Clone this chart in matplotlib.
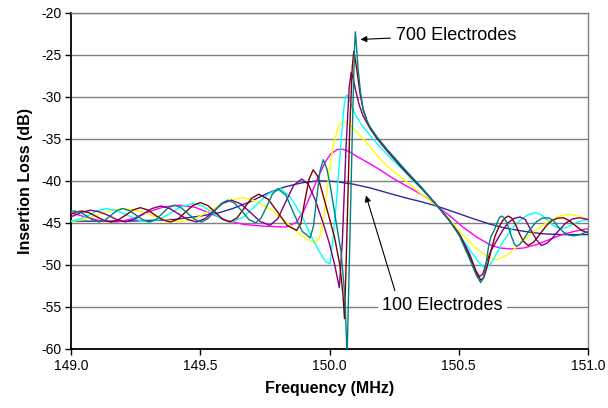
import matplotlib
matplotlib.use("Agg")
import matplotlib.pyplot as plt

plt.rcParams["font.family"] = ["Liberation Sans", "DejaVu Sans"]
plt.rcParams["axes.unicode_minus"] = False

# 100 electrodes
freq_100 = [149.0, 149.228, 149.40, 149.50, 149.573, 149.626, 149.693,
            149.759, 149.825, 149.892, 149.958, 150.025, 150.091, 150.157,
            150.22, 150.29, 150.356, 150.419, 150.49, 150.555, 150.615,
            150.675, 150.75, 150.821, 150.9, 151.0]
loss_100 = [-44.8, -44.8, -44.6, -44.2, -43.8, -43.3, -42.5,
            -41.5, -40.75, -40.25, -40.0, -40.1, -40.4, -40.85,
            -41.4, -42.0, -42.5, -43.05, -43.8, -44.5, -45.1,
            -45.6, -46.0, -46.3, -46.4, -46.4]

# 200 electrodes
freq_200 = [149.00, 149.06, 149.12, 149.18, 149.24, 149.30, 149.36, 149.42,
            149.48, 149.54, 149.60, 149.67, 149.75, 149.83, 149.87, 149.90,
            149.93, 149.96, 149.985, 150.005, 150.03, 150.05, 150.075, 150.10,
            150.157, 150.19, 150.25, 150.32, 150.37, 150.419, 150.47, 150.52,
            150.57, 150.62, 150.66, 150.70, 150.75, 150.80, 150.85, 150.90,
            150.95, 151.00]
loss_200 = [-43.8, -44.35, -44.8, -44.9, -44.5, -43.7, -43.1, -42.9,
            -43.15, -43.9, -44.7, -45.2, -45.4, -45.5, -45.0, -43.6,
            -41.5, -39.3, -37.7, -36.8, -36.3, -36.25, -36.5, -37.0,
            -38.0, -38.6, -39.8, -41.0, -41.9, -43.05, -44.3, -45.6,
            -46.7, -47.6, -48.0, -48.1, -48.0, -47.6, -47.0, -46.4,
            -46.0, -45.7]

# 300 electrodes
freq_300 = [149.000, 149.05, 149.10, 149.15, 149.20, 149.255, 149.31, 149.365,
            149.42, 149.482, 149.543, 149.605, 149.666, 149.72, 149.78, 149.835,
            149.89, 149.925, 149.948, 149.963, 149.978, 149.99, 150.003, 150.017,
            150.03, 150.04, 150.051, 150.065, 150.08, 150.10, 150.13, 150.157,
            150.19, 150.224, 150.29, 150.356, 150.419, 150.47, 150.52, 150.57,
            150.61, 150.647, 150.69, 150.74, 150.80, 150.86, 150.89, 150.92,
            150.95, 150.975, 151.00]
loss_300 = [-44.85, -44.6, -44.1, -43.55, -43.3, -43.55, -44.1, -44.65,
            -44.9, -44.49, -43.45, -42.4, -42.0, -42.5, -43.6, -45.0,
            -46.5, -47.15, -47.3, -46.6, -44.2, -41.3, -38.0, -35.5,
            -34.0, -33.3, -32.95, -33.0, -33.4, -34.0, -35.0, -36.0,
            -37.2, -38.3, -39.9, -41.6, -43.05, -44.8, -46.6, -48.1,
            -49.0, -49.4, -48.8, -47.4, -45.8, -44.6, -44.2, -44.0,
            -44.1, -44.3, -44.6]

# 400 electrodes
freq_400 = [149.000, 149.034, 149.068, 149.101, 149.135, 149.176, 149.218, 149.259,
            149.30, 149.343, 149.387, 149.43, 149.474, 149.51, 149.547, 149.583,
            149.62, 149.668, 149.716, 149.764, 149.812, 149.85, 149.89, 149.925,
            149.96, 149.985, 150.002, 150.015, 150.028, 150.042, 150.055, 150.062,
            150.067, 150.075, 150.09, 150.11, 150.13, 150.157, 150.19, 150.224,
            150.29, 150.356, 150.419, 150.47, 150.52, 150.57, 150.59, 150.604,
            150.62, 150.64, 150.67, 150.70, 150.725, 150.75, 150.772, 150.795,
            150.818, 150.84, 150.865, 150.892, 150.915, 150.94, 150.97, 151.00]
loss_400 = [-44.8, -44.55, -44.1, -43.55, -43.3, -43.55, -44.1, -44.65,
            -44.9, -44.57, -43.8, -43.03, -42.7, -43.03, -43.8, -44.57,
            -44.9, -44.3, -42.9, -41.54, -40.95, -42.0, -44.0, -46.3,
            -48.4, -49.6, -49.9, -46.5, -42.0, -36.5, -31.5, -30.1,
            -29.8, -30.2, -31.5, -32.7, -33.6, -34.6, -35.8, -36.9,
            -38.9, -41.0, -43.05, -45.0, -47.2, -49.4, -50.1, -50.3,
            -50.0, -49.0, -47.3, -46.0, -45.0, -44.4, -44.0, -43.8,
            -44.0, -44.6, -45.3, -45.7, -45.55, -45.2, -44.8, -44.6]

# 500 electrodes
freq_500 = [149.000, 149.04, 149.076, 149.11, 149.143, 149.176, 149.21, 149.244,
            149.279, 149.313, 149.348, 149.382, 149.416, 149.451, 149.485, 149.519,
            149.552, 149.586, 149.62, 149.657, 149.695, 149.732, 149.77, 149.80,
            149.83, 149.861, 149.892, 149.918, 149.945, 149.975, 150.0, 150.02,
            150.038, 150.05, 150.064, 150.076, 150.084, 150.092, 150.10, 150.115,
            150.13, 150.157, 150.184, 150.224, 150.29, 150.356, 150.419, 150.463,
            150.502, 150.542, 150.565, 150.58, 150.593, 150.608, 150.625, 150.645,
            150.668, 150.69, 150.713, 150.737, 150.757, 150.778, 150.80, 150.82,
            150.843, 150.865, 150.89, 150.915, 150.94, 150.965, 151.00]
loss_500 = [-44.3, -43.75, -43.5, -43.7, -44.1, -44.6, -44.9, -44.6,
            -43.95, -43.3, -43.0, -43.3, -43.95, -44.6, -44.9, -44.5,
            -43.6, -42.7, -42.3, -42.75, -43.8, -44.85, -45.3, -44.5,
            -42.55, -40.55, -39.8, -40.4, -42.3, -45.0, -47.5, -50.0,
            -52.7, -47.0, -36.0, -29.0, -27.1, -27.9, -29.1, -31.0,
            -32.3, -33.8, -35.0, -36.5, -38.8, -40.9, -43.05, -44.7,
            -46.3, -48.7, -50.6, -51.4, -51.1, -49.6, -48.3, -47.2,
            -46.0, -45.0, -44.5, -44.3, -44.6, -45.8, -47.0, -47.7,
            -47.4, -46.7, -45.8, -45.0, -44.55, -44.4, -44.6]

# 600 electrodes
freq_600 = [149.000, 149.021, 149.042, 149.07, 149.098, 149.127, 149.155, 149.183,
            149.211, 149.24, 149.268, 149.297, 149.326, 149.356, 149.385, 149.414,
            149.442, 149.471, 149.50, 149.529, 149.558, 149.586, 149.615, 149.643,
            149.67, 149.698, 149.726, 149.763, 149.80, 149.836, 149.873, 149.889,
            149.905, 149.921, 149.937, 149.955, 149.975, 150.0, 150.02, 150.04,
            150.052, 150.058, 150.066, 150.078, 150.088, 150.094, 150.10, 150.108,
            150.118, 150.13, 150.145, 150.157, 150.184, 150.224, 150.29, 150.356,
            150.419, 150.463, 150.502, 150.542, 150.569, 150.585, 150.597, 150.61,
            150.625, 150.64, 150.655, 150.67, 150.682, 150.692, 150.705, 150.72,
            150.735, 150.75, 150.769, 150.79, 150.815, 150.84, 150.86, 150.882,
            150.905, 150.925, 150.95, 150.975, 151.00]
loss_600 = [-44.0, -43.7, -43.6, -43.8, -44.25, -44.7, -44.9, -44.66,
            -44.1, -43.47, -43.2, -43.47, -44.1, -44.66, -44.9, -44.56,
            -43.75, -42.94, -42.6, -42.94, -43.75, -44.56, -44.9, -44.4,
            -43.25, -42.1, -41.6, -42.2, -43.75, -45.3, -45.9, -45.1,
            -42.3, -39.8, -38.7, -39.5, -41.7, -44.5, -46.8, -50.0,
            -53.5, -56.4, -48.0, -34.0, -26.5, -24.6, -25.6, -27.3,
            -29.6, -31.5, -32.9, -33.7, -34.9, -36.4, -38.7, -40.8,
            -43.05, -44.7, -46.4, -49.0, -51.0, -51.8, -51.5, -50.2,
            -48.3, -46.6, -45.5, -44.75, -44.35, -44.2, -44.45, -45.2,
            -46.3, -47.2, -47.7, -47.3, -46.3, -45.3, -44.75, -44.45,
            -44.4, -44.7, -45.3, -45.9, -46.2]

# 700 electrodes
freq_700 = [149.000, 149.016, 149.04, 149.063, 149.087, 149.11, 149.1325, 149.155,
            149.1775, 149.20, 149.226, 149.2525, 149.279, 149.305, 149.329, 149.353,
            149.376, 149.40, 149.426, 149.4525, 149.479, 149.505, 149.53, 149.556,
            149.581, 149.607, 149.634, 149.661, 149.688, 149.715, 149.736, 149.758,
            149.779, 149.80, 149.831, 149.862, 149.894, 149.925, 149.938, 149.95,
            149.963, 149.976, 149.99, 150.005, 150.025, 150.045, 150.06, 150.068,
            150.078, 150.09, 150.097, 150.100, 150.104, 150.11, 150.12, 150.13,
            150.145, 150.157, 150.184, 150.224, 150.29, 150.356, 150.419, 150.463,
            150.502, 150.542, 150.569, 150.585, 150.595, 150.605, 150.615, 150.625,
            150.637, 150.65, 150.658, 150.666, 150.675, 150.685, 150.695, 150.705,
            150.715, 150.724, 150.735, 150.75, 150.775, 150.80, 150.823, 150.846,
            150.865, 150.885, 150.905, 150.925, 150.945, 150.97, 151.00]
loss_700 = [-43.62, -43.6, -43.8, -44.25, -44.7, -44.9, -44.66, -44.1,
            -43.54, -43.3, -43.54, -44.1, -44.66, -44.9, -44.6, -43.9,
            -43.2, -42.9, -43.2, -43.9, -44.6, -44.9, -44.5, -43.6,
            -42.7, -42.3, -42.7, -43.6, -44.6, -45.0, -44.4, -43.0,
            -41.6, -40.95, -41.7, -43.9, -46.0, -46.8, -45.4, -42.2,
            -38.9, -37.5, -38.6, -41.0, -44.8, -48.5, -54.0, -61.0,
            -48.0, -32.0, -24.0, -22.3, -23.8, -26.5, -29.5, -31.5,
            -32.9, -33.6, -34.8, -36.3, -38.6, -40.8, -43.05, -44.7,
            -46.5, -49.3, -51.3, -52.1, -51.6, -50.0, -47.9, -46.6,
            -45.9, -44.9, -44.35, -44.2, -44.4, -44.9, -45.8, -46.7,
            -47.5, -47.8, -47.6, -47.0, -45.8, -44.9, -44.45, -44.4,
            -44.7, -45.5, -46.1, -46.45, -46.55, -46.4, -46.0]

series_freq = [freq_100, freq_200, freq_300, freq_400, freq_500, freq_600, freq_700]
series_loss = [loss_100, loss_200, loss_300, loss_400, loss_500, loss_600, loss_700]
series_colors = ["#2B2B99", "#FF00FF", "#FFFF00", "#00FFFF",
                 "#800080", "#800000", "#008080"]

x_ticks = [149.0, 149.5, 150.0, 150.5, 151.0]
y_ticks = [-60, -55, -50, -45, -40, -35, -30, -25, -20]

fig = plt.figure(figsize=(6.08, 4.08), dpi=100)

ax = fig.add_axes([71 / 608, 1 - 349 / 408, (588 - 71) / 608, (349 - 12.5) / 408])

for y in y_ticks:
    ax.axhline(y, color="#808080", linewidth=1.0, zorder=1)

for f, db, c in zip(series_freq, series_loss, series_colors):
    ax.plot(f, db, color=c, linewidth=1.0, zorder=3)

ax.set_xlim(149.0, 151.0)
ax.set_ylim(-60, -20)

ax.set_xticks(x_ticks)
ax.set_xticklabels([f"{t:.1f}" for t in x_ticks])
ax.set_yticks(y_ticks)

ax.tick_params(
    direction="out",
    length=4,
    width=1,
    labelsize=10,
    color="black",
    pad=3
)

for side in ["left", "bottom"]:
    ax.spines[side].set_color("black")
    ax.spines[side].set_linewidth(1.3)
for side in ["top", "right"]:
    ax.spines[side].set_color("#808080")
    ax.spines[side].set_linewidth(1.0)

ax.set_xlabel("Frequency (MHz)", fontsize=11.5, fontweight="bold", labelpad=6)
ax.set_ylabel("Insertion Loss (dB)", fontsize=11.5, fontweight="bold", labelpad=6)

ax.annotate(
    "700 Electrodes",
    xy=(150.120, -23.2),
    xytext=(150.257, -22.7),
    fontsize=13,
    ha="left",
    va="center",
    zorder=5,
    arrowprops=dict(arrowstyle="-|>", color="black", lw=0.8,
                    mutation_scale=9, shrinkA=2, shrinkB=0)
)

ax.annotate(
    "",
    xy=(150.141, -41.75),
    xytext=(150.253, -53.06),
    zorder=5,
    arrowprops=dict(arrowstyle="-|>", color="black", lw=0.8,
                    mutation_scale=9, shrinkA=0, shrinkB=0)
)

ax.text(
    150.204, -54.85,
    "100 Electrodes",
    fontsize=13,
    ha="left",
    va="center",
    zorder=6,
    bbox=dict(facecolor="white", edgecolor="none", pad=3)
)

fig.savefig("out.png", dpi=100)
plt.close(fig)
